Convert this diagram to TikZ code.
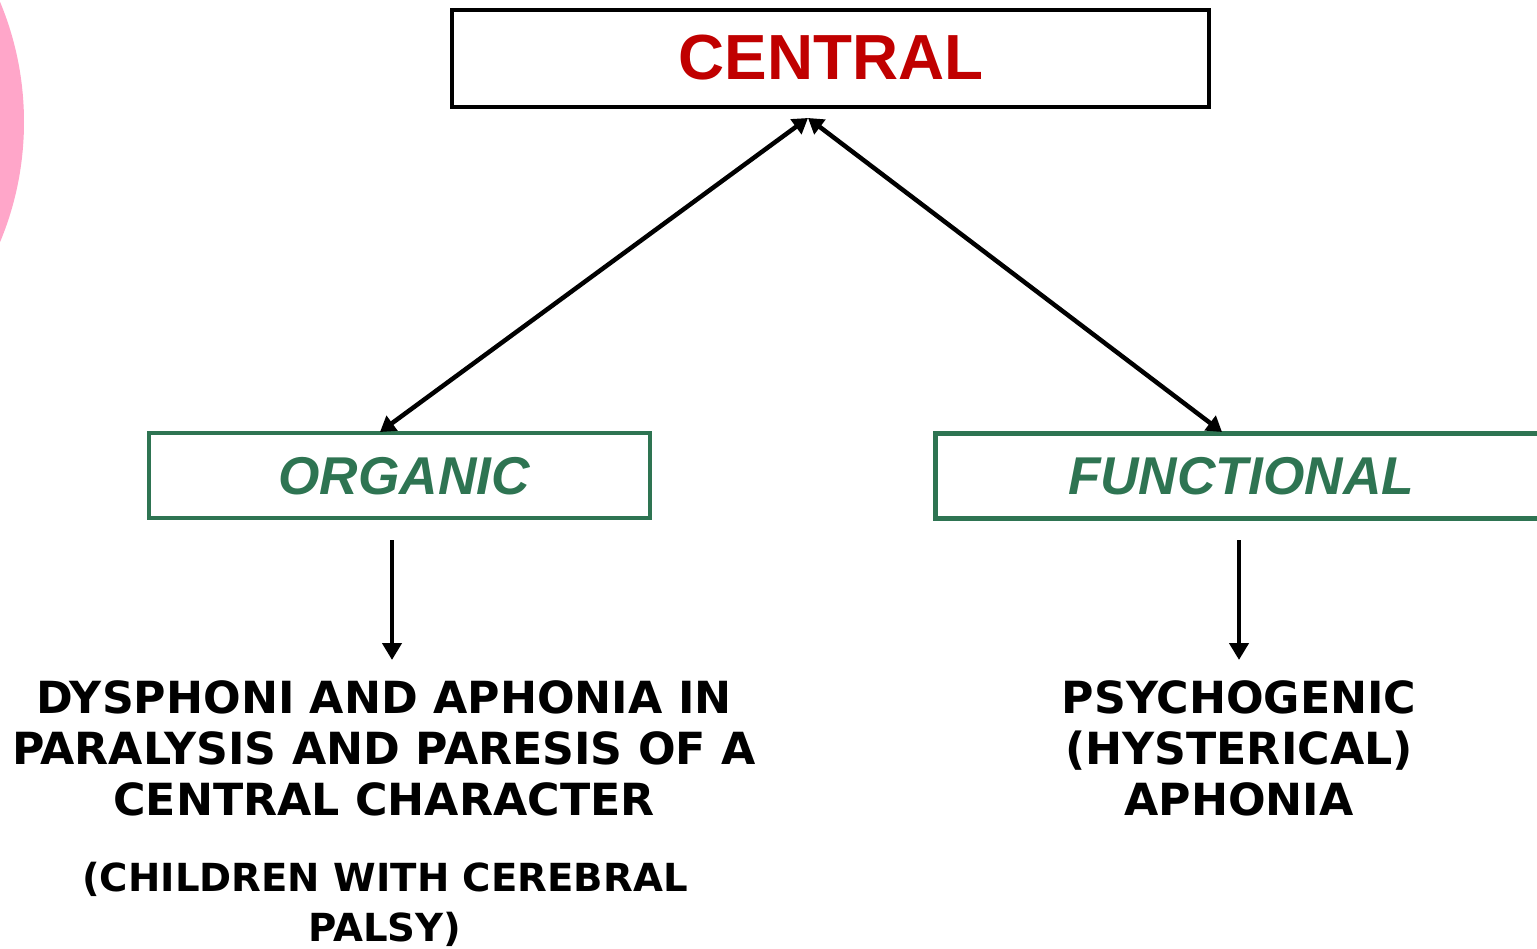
\documentclass[tikz,border=0pt]{standalone}
\usepackage{fontspec}
\setmainfont{DejaVu Sans}
\newfontfamily\arialfont{Liberation Sans}
\usetikzlibrary{arrows.meta}
\definecolor{boxgreen}{RGB}{46,116,82}
\definecolor{titlered}{RGB}{192,0,0}
\definecolor{blobpink}{RGB}{255,166,201}
\tikzset{
  px/.style={x=0.02cm,y=-0.02cm},
  topbox/.style={draw=black,line width=0.09cm,minimum width=15.14cm,minimum height=1.94cm,inner sep=0pt},
  subbox/.style={draw=boxgreen,line width=0.09cm,minimum height=1.7cm,inner sep=0pt,text=boxgreen,font=\arialfont\bfseries\itshape\fontsize{30.3}{34}\selectfont},
  link/.style={line width=0.09cm,-{Triangle[width=0.38cm,length=0.34cm]}},
  dlink/.style={line width=0.09cm,{Triangle[width=0.36cm,length=0.3cm]}-{Triangle[width=0.36cm,length=0.3cm]}},
  body/.style={align=center,inner sep=0pt,font=\bfseries\fontsize{25.2}{29}\selectfont},
  note/.style={align=center,inner sep=0pt,font=\bfseries\fontsize{22}{28.5}\selectfont}
}
\begin{document}
\begin{tikzpicture}[px]
\useasboundingbox (0,0) rectangle (1537,949);
\begin{scope}
\clip (0,0) rectangle (1537,949);
\fill[blobpink] (-288,122) circle (312);
\node[subbox,minimum width=12.4cm,anchor=west] (functional) at (933,476) {};
\end{scope}
\node[topbox] (central) at (830.5,58.5) {};
\node[text=titlered,font=\arialfont\bfseries\fontsize{36.3}{40}\selectfont] (centraltext) at (831,58) {CENTRAL};
\node[subbox,minimum width=10.02cm] (organic) at (399.5,475.5) {};
\node[subbox,draw=none] (orgtext) at (404,476) {ORGANIC};
\node[subbox,draw=none] (functext) at (1241,476) {FUNCTIONAL};
\coordinate (apex) at (808,118);
\coordinate (orgtop) at (380,432);
\coordinate (funtop) at (1222,432);
\draw[dlink] (orgtop) -- (apex);
\draw[dlink] (apex) -- (funtop);
\coordinate (orgdown) at (392,540);
\coordinate (fundown) at (1239,540);
\coordinate (orgend) at (392,660);
\coordinate (funend) at (1239,660);
\node[body] (dysph) at (384,748) {DYSPHONI AND APHONIA IN\\PARALYSIS AND PARESIS OF A\\CENTRAL CHARACTER};
\node[note] (cp) at (385,904) {(CHILDREN WITH CEREBRAL\\PALSY)};
\node[body] (psych) at (1239,748) {PSYCHOGENIC\\(HYSTERICAL)\\APHONIA};
\draw[link] (orgdown) -- (orgend);
\draw[link] (fundown) -- (funend);
\end{tikzpicture}
\end{document}
